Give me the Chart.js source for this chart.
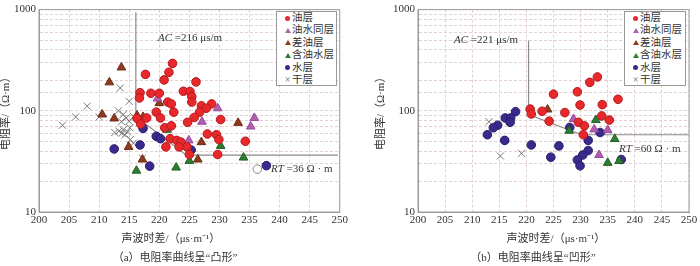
<!DOCTYPE html>
<html lang="zh">
<head>
<meta charset="UTF-8">
<title>电阻率-声波时差交会图</title>
<script src="https://cdn.jsdelivr.net/npm/chart.js"></script>
<style>
  body {margin:0; background:#fff; color:#333; font-family:"Liberation Serif","Noto Sans CJK SC",serif;}
  #wrap {position:relative; width:700px; height:266px; overflow:hidden;}
  canvas {position:absolute; top:0;}
  #cA {left:0;}
  #cB {left:350px;}
  .lbl {position:absolute; font-size:11px; line-height:13px; white-space:nowrap; color:#333;}
  .ctr {transform:translateX(-50%);}
  .legend {position:absolute; border:1px solid #999; background:#fff; font-size:10.5px; color:#333; box-sizing:border-box;}
  .legend .row {height:12.4px; line-height:12.4px; display:flex; align-items:center;}
  .mk {width:7px; margin-left:7px; margin-right:1px; display:flex; justify-content:center; align-items:center;}
  .dot {width:5px; height:5px; border-radius:50%;}
  .tri {width:0; height:0; border-left:3px solid transparent; border-right:3px solid transparent; border-bottom:5px solid;}
  .xx {font-size:10px; color:#666; line-height:10px;}
</style>
</head>
<body>
<div id="wrap">
  <canvas id="cA" width="350" height="246"></canvas>
  <canvas id="cB" width="350" height="246"></canvas>

  <span class="lbl" style="left:158px;top:31px"><i>AC</i> =216 μs/m</span>
  <span class="lbl" style="left:271px;top:162px"><i>RT</i> =36 Ω · m</span>
  <span class="lbl" style="left:454px;top:33px"><i>AC</i> =221 μs/m</span>
  <span class="lbl" style="left:619px;top:142px"><i>RT</i> =60 Ω · m</span>

  <span class="lbl ctr" style="left:171px;top:232px">声波时差/（μs·m⁻¹）</span>
  <span class="lbl ctr" style="left:556px;top:232px">声波时差/（μs·m⁻¹）</span>
  <span class="lbl ctr" style="left:175px;top:251px">（a）电阻率曲线呈“凸形”</span>
  <span class="lbl ctr" style="left:533px;top:251px">（b）电阻率曲线呈“凹形”</span>

  <div class="legend" id="legA" style="left:276px;top:11px;width:61px;height:75px"></div>
  <div class="legend" id="legB" style="left:624px;top:11px;width:62px;height:75px"></div>
</div>
<script>
  // series names and colours
  const seriesNames = ['油层', '油水同层', '差油层', '含油水层', '水层', '干层'];
  const seriesColors = ['#e8282b', '#b35fb0', '#8e3a1f', '#2f7d32', '#3a2a8c', '#777777'];
  const seriesBorders = ['#b51a1c', '#96489a', '#6e2a12', '#1f5e22', '#2a1c6a', '#777777'];
  const seriesStyles = ['circle', 'triangle', 'triangle', 'triangle', 'circle', 'crossRot'];

  const xTickStep = 5;
  const yTickLabels = [10, 100, 1000];

  // (a) 凸形
  const oilA = [[222.2,294],[221.6,240],[217.7,229],[220.8,202],[226.1,193],[224.0,156],[225.1,155],[216.8,151],
    [218.6,149],[220.0,149],[216.7,134],[225.4,138],[221.4,122],[222.0,117],[225.4,122],[228.7,117],[227.0,112],
    [227.8,106],[226.7,97],[219.5,97],[222.4,97],[220.2,85],[225.8,86],[230.2,82],[217.9,85],[216.3,84],[216.9,74],
    [224.7,77],[220.9,68],[222.0,71],[228.0,59],[229.5,58],[221.8,53],[222.9,51],[223.6,49],[229.9,52],[234.3,50],
    [221.1,44],[223.3,44],[224.6,44],[225.0,37],[229.7,37]];
  const oilWaterA = [[219.7,132],[229.7,106],[227.1,78],[235.8,85],[235.2,70],[224.9,51]];
  const poorOilA = [[213.7,268],[211.7,191],[220.0,119],[210.5,92],[212.5,84],[216.3,90],[217.3,87],[214.9,44],
    [217.2,33],[227.0,49],[226.4,33],[233.1,76]];
  const oilyWaterA = [[221.3,65],[230.2,45],[234.0,34.5],[225.0,32],[222.8,27.5],[216.2,25.6]];
  const waterA = [[217.3,67],[219.5,56],[220.2,53],[216.8,46],[212.5,42],[218.4,28.4],[225.3,41],[237.8,28.7]];
  const dryA = [[203.9,72],[206.1,87],[208.0,111],[210.0,87],[213.5,168],[215.0,124],[213.2,100],[214.0,92],
    [214.5,85],[213.7,78],[215.0,79],[215.7,88],[212.6,61],[213.3,63],[214.0,65],[214.7,62],[215.1,68],[215.2,52],
    [215.7,48],[217.2,34],[214.3,58],[213.8,60]];
  const hollowA = [[236.3,26.5]];
  const cutLineA = [[216.1,940],[216.1,88],[224.5,36.4],[249.7,36.4]];

  // (b) 凹形
  const oilB = [[233.1,216],[231.7,191],[229.4,154],[225.0,146],[236.9,130],[229.9,114],[234.0,115],[220.7,104],
    [222.9,99],[220.9,93],[227.1,96],[233.9,89],[235.3,81],[224.2,79],[229.6,77],[230.7,71],[230.5,58]];
  const oilWaterB = [[228.7,83],[232.5,65.5],[235.0,64.5],[233.4,36.6]];
  const poorOilB = [[223.9,103]];
  const oilyWaterB = [[232.8,81],[227.9,63.5],[236.3,52.6],[235.0,30.6],[237.1,32]];
  const waterB = [[218.0,98],[216.1,85],[217.1,85],[217.0,77],[214.7,72],[213.9,68],[212.8,58],[216.0,51],
    [228.0,68.5],[233.6,61],[231.4,51],[220.9,46],[226.0,45],[231.4,40.5],[230.4,36.6],[229.4,32.7],[224.5,34.8],
    [229.9,28.6],[237.5,33]];
  const dryB = [[213.1,78],[215.2,35.8],[219.1,38]];
  const cutLineB = [[220.4,495],[220.4,92],[230.2,58],[250,58]];

  const toXY = arr => arr.map(([x, y]) => ({x, y}));

  const framePlugin = {
    id: 'frame',
    beforeDatasetsDraw(chart) {
      const a = chart.chartArea, c = chart.ctx;
      c.save();
      c.strokeStyle = '#9a9a9a';
      c.lineWidth = 1;
      c.strokeRect(a.left, a.top, a.right - a.left, a.bottom - a.top);
      c.restore();
    }
  };

  function makeChart(id, series, hollow, cutLine, yWidth, pad) {
    const datasets = series.map((s, i) => ({
      label: seriesNames[i],
      data: toXY(s),
      pointStyle: seriesStyles[i],
      pointRadius: seriesStyles[i] === 'circle' ? 4.3 : 5,
      backgroundColor: seriesColors[i],
      borderColor: seriesBorders[i],
      borderWidth: 1
    }));
    if (hollow.length) {
      datasets.push({label: 'hollow', data: toXY(hollow), pointStyle: 'circle', pointRadius: 4.3,
        backgroundColor: '#fff', borderColor: '#888', borderWidth: 1});
    }
    datasets.push({label: 'cut', data: toXY(cutLine), showLine: true, pointRadius: 0,
      borderColor: '#8a8a8a', borderWidth: 1.2, fill: false});

    const tickFont = {family: '"Liberation Serif", "Noto Sans CJK SC", serif', size: 11};
    const gridOpts = {color: '#e4cfd3', drawTicks: false, lineWidth: 1};
    const borderOpts = {display: true, color: '#9a9a9a', width: 1, dash: [3, 2]};

    return new Chart(document.getElementById(id), {
      type: 'scatter',
      data: {datasets},
      options: {
        responsive: false,
        animation: false,
        layout: {padding: pad},
        plugins: {legend: {display: false}, tooltip: {enabled: false}},
        scales: {
          x: {
            type: 'linear', min: 200, max: 250,
            ticks: {stepSize: xTickStep, padding: 2, color: '#333', font: tickFont, autoSkip: false, maxRotation: 0},
            grid: gridOpts, border: borderOpts,
            afterFit: s => { s.height = 34; }
          },
          y: {
            type: 'logarithmic', min: 10, max: 1000,
            ticks: {
              autoSkip: false, padding: 3, color: '#333', font: tickFont,
              callback: v => yTickLabels.some(t => Math.abs(t - v) < 1e-6) ? String(v) : ''
            },
            grid: gridOpts, border: borderOpts,
            title: {display: true, text: '电阻率/（Ω·m）', color: '#333', padding: 0,
              font: {family: '"Liberation Serif", "Noto Sans CJK SC", serif', size: 11}},
            afterFit: s => { s.width = yWidth; }
          }
        }
      },
      plugins: [framePlugin]
    });
  }

  function buildLegend(id) {
    const box = document.getElementById(id);
    box.innerHTML = seriesNames.map((n, i) => {
      let mk;
      if (seriesStyles[i] === 'circle') mk = `<span class="dot" style="background:${seriesColors[i]}"></span>`;
      else if (seriesStyles[i] === 'triangle') mk = `<span class="tri" style="border-bottom-color:${seriesColors[i]}"></span>`;
      else mk = `<span class="xx">×</span>`;
      return `<div class="row"><span class="mk">${mk}</span>${n}</div>`;
    }).join('');
  }

  makeChart('cA', [oilA, oilWaterA, poorOilA, oilyWaterA, waterA, dryA], hollowA, cutLineA, 39,
    {left: 0, top: 7, right: 10, bottom: 0});
  makeChart('cB', [oilB, oilWaterB, poorOilB, oilyWaterB, waterB, dryB], [], cutLineB, 43,
    {left: 25, top: 7, right: 11, bottom: 0});
  buildLegend('legA');
  buildLegend('legB');
</script>
</body>
</html>
